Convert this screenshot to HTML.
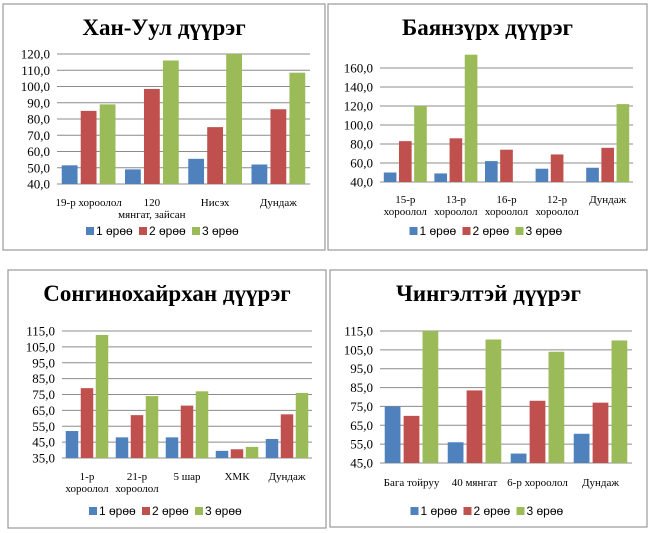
<!DOCTYPE html>
<html><head><meta charset="utf-8">
<style>
html,body{margin:0;padding:0;background:#fff;}
body{width:650px;height:533px;position:relative;overflow:hidden;}
svg{position:absolute;left:0;top:0;}
</style></head>
<body>
<svg id="root" width="650" height="533" viewBox="0 0 650 533"></svg>
<script>
// Chart 1: Хан-Уул
const c1Cats = [["19-р хороолол"],["120","мянгат, зайсан"],["Нисэх"],["Дундаж"]];
const c1S1 = [51.5,49,55.5,52];
const c1S2 = [85,98.5,75,86];
const c1S3 = [89,116,120,108.5];
const c1Ticks = [40,50,60,70,80,90,100,110,120];
// Chart 2: Баянзүрх
const c2Cats = [["15-р","хороолол"],["13-р","хороолол"],["16-р","хороолол"],["12-р","хороолол"],["Дундаж"]];
const c2S1 = [50,49,62,54,55];
const c2S2 = [83,86,74,69,76];
const c2S3 = [120,174,null,null,122];
const c2Ticks = [40,60,80,100,120,140,160];
// Chart 3: Сонгинохайрхан
const c3Cats = [["1-р","хороолол"],["21-р","хороолол"],["5 шар"],["ХМК"],["Дундаж"]];
const c3S1 = [52,48,48,39.5,47];
const c3S2 = [79,62,68,40.5,62.5];
const c3S3 = [112.5,74,77,42,76];
const c3Ticks = [35,45,55,65,75,85,95,105,115];
// Chart 4: Чингэлтэй
const c4Cats = [["Бага тойруу"],["40 мянгат"],["6-р хороолол"],["Дундаж"]];
const c4S1 = [75,56,50,60.5];
const c4S2 = [70,83.5,78,77];
const c4S3 = [115,110.5,104,110];
const c4Ticks = [45,55,65,75,85,95,105,115];
const seriesNames = ["1 өрөө","2 өрөө","3 өрөө"];

const NS="http://www.w3.org/2000/svg";
const root=document.getElementById('root');
const colors=["#4f81bd","#c0504d","#9bbb59"];
function mk(tag,attrs,parent){const e=document.createElementNS(NS,tag);for(const k in attrs)e.setAttribute(k,attrs[k]);(parent||root).appendChild(e);return e;}

function drawChart(cfg){
  const g=mk('g',{});
  
  
  const fr=mk('rect',{x:cfg.box[0],y:cfg.box[1],width:cfg.box[2]-cfg.box[0],height:cfg.box[3]-cfg.box[1],fill:'#fff',stroke:'#999','stroke-width':1.2},g);
  
  
  const t=mk('text',{x:(cfg.box[0]+cfg.box[2])/2,y:cfg.titleY,'text-anchor':'middle','font-family':'Liberation Serif, serif','font-weight':'bold','font-size':23,fill:'#000'},g);
  t.textContent=cfg.title;
  
  
  const ticks=cfg.ticks, min=ticks[0], max=ticks[ticks.length-1];
  const y=v=>cfg.yBottom-(v-min)/(max-min)*(cfg.yBottom-cfg.yTop);
  ticks.forEach(tv=>{
    const l=mk('line',{x1:cfg.x0,x2:cfg.x1,y1:y(tv),y2:y(tv),stroke:'#8c8c8c','stroke-width':1},g);
    
    
    const tt=mk('text',{x:cfg.x0-7,y:y(tv)+4.5,'text-anchor':'end','font-family':'Liberation Serif, serif','font-size':13,fill:'#000'},g);
    tt.textContent=tv.toFixed(1).replace('.',',');
    
    
  });
  const n=cfg.cats.length, gw=(cfg.x1-cfg.x0)/n, bw=gw*0.25, gap=gw*0.05, off=(gw-3*bw-2*gap)/2;
  cfg.series.forEach((s,si)=>{
    s.forEach((v,ci)=>{
      if(v==null)return;
      const bx=cfg.x0+ci*gw+off+si*(bw+gap);
      const top=Math.max(y(v),cfg.yTop-40);
      const b=mk('rect',{x:bx,y:top,width:bw,height:cfg.yBottom-top,fill:colors[si]},g);
      
      
    });
  });
  cfg.cats.forEach((lines,ci)=>{
    const cx=cfg.x0+ci*gw+gw/2;
    lines.forEach((ln,li)=>{
      const ct=mk('text',{x:cx,y:cfg.catY+li*12,'text-anchor':'middle','font-family':'Liberation Serif, serif','font-size':11,fill:'#000'},g);
      ct.textContent=ln;
      
      
    });
  });
  const lx=(cfg.box[0]+cfg.box[2])/2-78;
  seriesNames.forEach((nm,si)=>{
    const x=lx+si*53;
    const sw=mk('rect',{x:x,y:cfg.legY-5,width:8,height:8,fill:colors[si]},g);
    
    
    const lt=mk('text',{x:x+10,y:cfg.legY+3,'font-family':'Liberation Sans, sans-serif','font-size':12,fill:'#000'},g);
    lt.textContent=nm;
    
    
  });
}
drawChart({name:'khan-uul-chart',title:'Хан-Уул дүүрэг',box:[3,4,325,250],titleY:35,ticks:c1Ticks,yTop:54,yBottom:184,x0:57,x1:310,cats:c1Cats,series:[c1S1,c1S2,c1S3],catY:206,legY:232});
drawChart({name:'bayanzurkh-chart',title:'Баянзүрх дүүрэг',box:[328,4,647,250],titleY:35,ticks:c2Ticks,yTop:68,yBottom:182,x0:380,x1:633,cats:c2Cats,series:[c2S1,c2S2,c2S3],catY:203,legY:232});
drawChart({name:'songinokhairkhan-chart',title:'Сонгинохайрхан дүүрэг',box:[8,270,326,528],titleY:301,ticks:c3Ticks,yTop:331,yBottom:458,x0:62,x1:312,cats:c3Cats,series:[c3S1,c3S2,c3S3],catY:480,legY:512});
drawChart({name:'chingeltei-chart',title:'Чингэлтэй дүүрэг',box:[330,270,647,527],titleY:301,ticks:c4Ticks,yTop:331,yBottom:463,x0:380,x1:632,cats:c4Cats,series:[c4S1,c4S2,c4S3],catY:486,legY:512});
</script>
</body></html>
